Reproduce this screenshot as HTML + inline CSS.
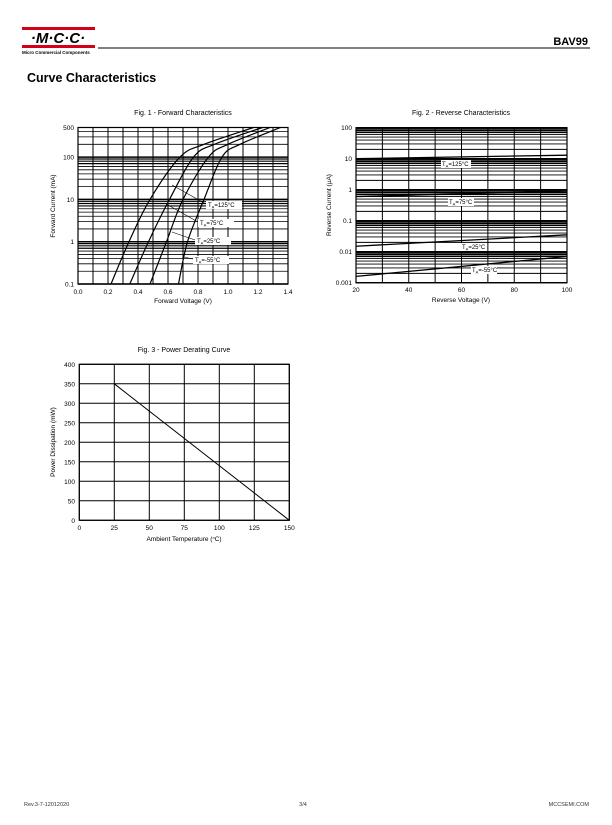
<!DOCTYPE html>
<html><head><meta charset="utf-8"><style>
html,body{margin:0;padding:0;background:#fff;}
svg{display:block;font-family:"Liberation Sans",Arial,sans-serif;}
</style></head><body>
<svg id="pg" width="612" height="825" viewBox="0 0 612 825" xmlns="http://www.w3.org/2000/svg">
<g>
<rect x="22" y="27" width="73" height="3" fill="#d4001a"/>
<rect x="22" y="45" width="73" height="3" fill="#d4001a"/>
<text x="58" y="43" font-size="15" font-weight="bold" font-style="italic" text-anchor="middle" fill="#000">·M·C·C·</text>
<text x="22" y="54" font-size="4.5" font-weight="bold" fill="#000">Micro Commercial Components</text>
</g>
<line x1="98" y1="48" x2="590" y2="48" stroke="#000" stroke-width="1"/>
<text x="588" y="45" font-size="11" font-weight="bold" text-anchor="end">BAV99</text>
<text x="27" y="82" font-size="12.5" font-weight="bold">Curve Characteristics</text>
<g id="f1"></g>
<g id="f2"></g>
<g id="f3"></g>
<text x="24" y="806" font-size="5.5" fill="#333">Rev.3-7-12012020</text>
<text x="303" y="806" font-size="5.5" fill="#333" text-anchor="middle">3/4</text>
<text x="589" y="806" font-size="5.5" fill="#333" text-anchor="end">MCCSEMI.COM</text>
</svg>
<script>
// Fig 1 data
const f1Temps = ['125','75','25','-55'];
const f1V125 = [0.22,0.34,0.48,0.68,0.84,1.17];
const f1V75 = [0.345,0.47,0.61,0.77,0.91,1.23];
const f1V25 = [0.48,0.59,0.70,0.87,1.0,1.28];
const f1Vm55 = [0.67,0.73,0.84,0.96,1.08,1.35];
const f1I = [0.1,1,10,100,200,500];
const f1XTicks = ['0.0','0.2','0.4','0.6','0.8','1.0','1.2','1.4'];
const f1YTicks = ['0.1','1','10','100','500'];
// Fig 2 data
const f2Temps = ['125','75','25','-55'];
const f2VR = [20,100];
const f2I125 = [10,13];
const f2I75 = [0.6,0.9];
const f2I25 = [0.015,0.035];
const f2Im55 = [0.0016,0.007];
const f2XTicks = ['20','40','60','80','100'];
const f2YTicks = ['0.001','0.01','0.1','1','10','100'];
// Fig 3 data
const f3T = [25,150];
const f3P = [350,0];
const f3XTicks = ['0','25','50','75','100','125','150'];
const f3YTicks = ['0','50','100','150','200','250','300','350','400'];

const NS='http://www.w3.org/2000/svg';
function mk(parent,tag,attrs){const e=document.createElementNS(NS,tag);for(const k in attrs)e.setAttribute(k,attrs[k]);parent.appendChild(e);return e;}
function txt(parent,x,y,s,size,anchor,extra){const t=mk(parent,'text',Object.assign({x:x,y:y,'font-size':size,'text-anchor':anchor||'start'},extra||{}));t.textContent=s;return t;}
function smooth(pts){let d='M'+pts[0][0].toFixed(1)+','+pts[0][1].toFixed(1);
 for(let i=0;i<pts.length-1;i++){const p0=pts[i-1]||pts[i],p1=pts[i],p2=pts[i+1],p3=pts[i+2]||p2;
  const c1=[p1[0]+(p2[0]-p0[0])/6,p1[1]+(p2[1]-p0[1])/6],c2=[p2[0]-(p3[0]-p1[0])/6,p2[1]-(p3[1]-p1[1])/6];
  d+='C'+c1[0].toFixed(1)+','+c1[1].toFixed(1)+' '+c2[0].toFixed(1)+','+c2[1].toFixed(1)+' '+p2[0].toFixed(1)+','+p2[1].toFixed(1);}
 return d;}

// ---- Fig 1
(function(){
const g=document.getElementById('f1');
const X0=78,X1=288,Y0=284,Y1=127.5;
const xs=v=>X0+(v/1.4)*(X1-X0);
const ys=i=>Y0-(Math.log10(i/0.1)/Math.log10(5000))*(Y0-Y1);
const t=txt(g,183,115,'Fig. 1 - Forward Characteristics',7,'middle');

for(let d=0.1;d<500;d*=10){for(let m=1;m<10;m++){const v=d*m;if(v>500)break;const y=ys(v);
 const l=mk(g,'line',{x1:X0,x2:X1,y1:y,y2:y,stroke:'#000','stroke-width':m==1?1.5:(m>=7?1.2:0.8)});
 }}
for(let k=0;k<=14;k++){const x=xs(k/10);const l=mk(g,'line',{x1:x,x2:x,y1:Y1,y2:Y0,stroke:'#000','stroke-width':1});
 }
mk(g,'rect',{x:X0,y:Y1,width:X1-X0,height:Y0-Y1,fill:'none',stroke:'#000','stroke-width':1.2});
f1XTicks.forEach((s,i)=>{const e=txt(g,xs(parseFloat(s)),294,s,6.5,'middle');});
f1YTicks.forEach(s=>{const e=txt(g,74,ys(parseFloat(s))+2.5,s,6.5,'end');});
let e=txt(g,183,303,'Forward Voltage (V)',6.5,'middle');
e=txt(g,0,0,'Forward Current (mA)',6.5,'middle',{transform:'translate(55,206) rotate(-90)'});
const series=[f1V125,f1V75,f1V25,f1Vm55];
series.forEach((vs,si)=>{const pts=vs.map((v,i)=>[xs(v),ys(f1I[i])]);
 const p=mk(g,'path',{d:smooth(pts),fill:'none',stroke:'#000','stroke-width':1.2,'stroke-linejoin':'round'});
 });
const labs=[[206,207,172,185],[198,225,168,205],[195,243,172,232],[193,262,184,257]];
labs.forEach((L,i)=>{const a=mk(g,'line',{x1:L[2],y1:L[3],x2:L[0],y2:L[1]-3,stroke:'#000','stroke-width':0.6});
 
 mk(g,'rect',{x:L[0],y:L[1]-6,width:36,height:8,fill:'#fff'});
 const tt=txt(g,L[0]+2,L[1],'',6,'start');tt.innerHTML='T<tspan font-size="4" dy="1.5">A</tspan><tspan dy="-1.5">='+f1Temps[i]+'°C</tspan>';
 });
})();

// ---- Fig 2
(function(){
const g=document.getElementById('f2');
const X0=356,X1=567,Y0=282.7,Y1=127.7;
const xs=v=>X0+(v-20)/80*(X1-X0);
const ys=i=>Y0-(Math.log10(i/0.001)/5)*(Y0-Y1);
let e=txt(g,461,115,'Fig. 2 - Reverse Characteristics',7,'middle');
for(let d=0.001;d<100;d*=10){for(let m=1;m<=10;m++){const y=ys(d*m);
 const l=mk(g,'line',{x1:X0,x2:X1,y1:y,y2:y,stroke:'#000','stroke-width':m>=7||m==1?1.3:0.9});
 }}
for(let v=20;v<=100;v+=10){const x=xs(v);const l=mk(g,'line',{x1:x,x2:x,y1:Y1,y2:Y0,stroke:'#000','stroke-width':1});
 }
mk(g,'rect',{x:X0,y:Y1,width:X1-X0,height:Y0-Y1,fill:'none',stroke:'#000','stroke-width':1.2});
f2XTicks.forEach(s=>{const e=txt(g,xs(parseFloat(s)),292,s,6.5,'middle');});
f2YTicks.forEach(s=>{const e=txt(g,352,ys(parseFloat(s))+2.5,s,6.5,'end');});
e=txt(g,461,302,'Reverse Voltage (V)',6.5,'middle');
e=txt(g,0,0,'Reverse Current (µA)',6.5,'middle',{transform:'translate(331,205) rotate(-90)'});
[f2I125,f2I75,f2I25,f2Im55].forEach((is,si)=>{const l=mk(g,'line',{x1:xs(f2VR[0]),y1:ys(is[0]),x2:xs(f2VR[1]),y2:ys(is[1]),stroke:'#000','stroke-width':1.3});
 });
const labs=[[441,166],[448,204],[461,249],[471,272]];
labs.forEach((L,i)=>{mk(g,'rect',{x:L[0],y:L[1]-6,width:i==0?30:26,height:8,fill:'#fff'});
 const tt=txt(g,L[0]+1,L[1],'',6,'start');tt.innerHTML='T<tspan font-size="4" dy="1.5">A</tspan><tspan dy="-1.5">='+f2Temps[i]+'°C</tspan>';
 });
})();

// ---- Fig 3
(function(){
const g=document.getElementById('f3');
const X0=79.3,X1=289.3,Y0=520.3,Y1=364.3;
const xs=v=>X0+v/150*(X1-X0);
const ys=p=>Y0-p/400*(Y0-Y1);
let e=txt(g,184,352,'Fig. 3 - Power Derating Curve',7,'middle');
f3XTicks.forEach(s=>{const x=xs(+s);const l=mk(g,'line',{x1:x,x2:x,y1:Y1,y2:Y0,stroke:'#000','stroke-width':1});
 
 const t=txt(g,x,530,s,6.5,'middle');});
f3YTicks.forEach(s=>{const y=ys(+s);const l=mk(g,'line',{x1:X0,x2:X1,y1:y,y2:y,stroke:'#000','stroke-width':1});
 
 const t=txt(g,75,y+2.5,s,6.5,'end');});
mk(g,'rect',{x:X0,y:Y1,width:X1-X0,height:Y0-Y1,fill:'none',stroke:'#000','stroke-width':1.2});
const l=mk(g,'line',{x1:xs(f3T[0]),y1:ys(f3P[0]),x2:xs(f3T[1]),y2:ys(f3P[1]),stroke:'#000','stroke-width':1});

e=txt(g,184,541,'',6.5,'middle');e.innerHTML='Ambient Temperature (<tspan font-size="4" dy="-2">o</tspan><tspan dy="2">C)</tspan>';

e=txt(g,0,0,'Power Dissipation  (mW)',6.5,'middle',{transform:'translate(55,442) rotate(-90)'});
})();
</script>
</body></html>
